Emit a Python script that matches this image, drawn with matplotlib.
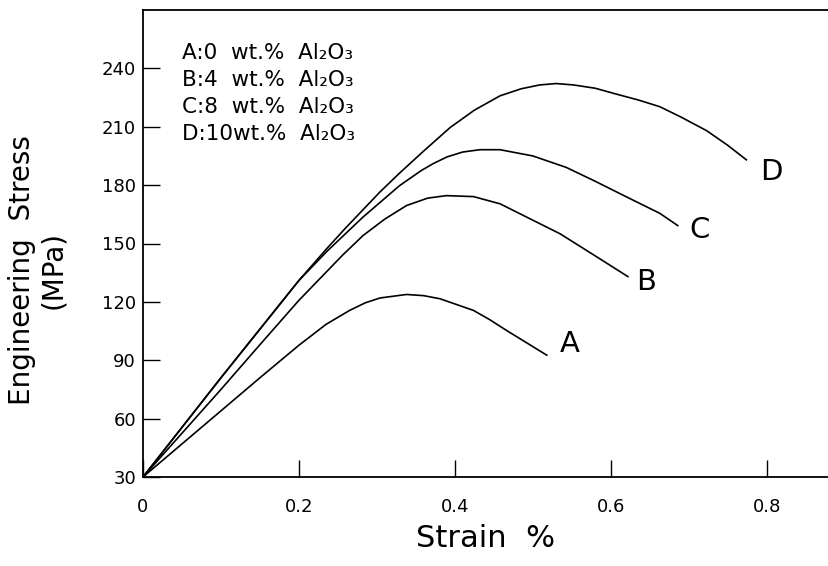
import matplotlib
matplotlib.use("Agg")
import matplotlib.pyplot as plt

# strain (%) / engineering stress (MPa)
a_strain = [0, 0.05, 0.1, 0.15, 0.2, 0.235, 0.265, 0.285, 0.304, 0.338, 0.36, 0.381,
            0.424, 0.445, 0.466, 0.49, 0.518]
a_stress = [30, 47, 64, 81, 97.7, 108.5, 115.6, 119.5, 122, 123.8, 123.2, 121.6,
            115.6, 110.8, 105.4, 99.5, 92.6]

b_strain = [0, 0.05, 0.1, 0.15, 0.2, 0.256, 0.282, 0.31, 0.338, 0.365, 0.389, 0.424,
            0.458, 0.5, 0.535, 0.585, 0.622]
b_stress = [30, 52.5, 75, 98, 120.8, 144, 154, 162.5, 169.5, 173.3, 174.6, 174.1,
            170.4, 162, 155, 142.4, 133]

c_strain = [0, 0.05, 0.1, 0.15, 0.2, 0.236, 0.282, 0.329, 0.357, 0.372, 0.39, 0.41,
            0.432, 0.458, 0.5, 0.543, 0.58, 0.62, 0.663, 0.686]
c_stress = [30, 55.5, 81, 106, 131, 146, 163.5, 179.7, 187.5, 191, 194.5, 197,
            198.2, 198.2, 195, 189.1, 182, 174, 165.5, 159.2]

d_strain = [0, 0.05, 0.1, 0.15, 0.2, 0.236, 0.26, 0.304, 0.33, 0.36, 0.394, 0.425,
            0.458, 0.485, 0.509, 0.53, 0.552, 0.58, 0.607, 0.635, 0.663, 0.69, 0.723,
            0.75, 0.774]
d_stress = [30, 55.5, 81, 106, 131, 147.5, 158, 176.5, 186.5, 197.5, 209.6, 218.5,
            225.9, 229.5, 231.5, 232.2, 231.5, 229.8, 226.8, 223.8, 220.3, 215, 208,
            200.5, 193]

curve_names = ["A", "B", "C", "D"]
name_pos = [(0.547, 98.6), (0.646, 130.2), (0.714, 156.7), (0.806, 186.6)]
legend_lines = ["A:0  wt.%  Al₂O₃", "B:4  wt.%  Al₂O₃", "C:8  wt.%  Al₂O₃", "D:10wt.%  Al₂O₃"]
legend_y = [248.1, 234.1, 220.2, 206.2]

x_ticks = [0, 0.2, 0.4, 0.6, 0.8]
x_labels = ["0", "0.2", "0.4", "0.6", "0.8"]
y_ticks = [30, 60, 90, 120, 150, 180, 210, 240]

plt.rcParams["font.family"] = ["DejaVu Sans"]

fig = plt.figure(figsize=(8.29, 5.66), dpi=100)
ax = fig.add_axes([143 / 829, 1 - 477 / 566, 1 - 143 / 829, 467 / 566])

for xs, ys in [(a_strain, a_stress), (b_strain, b_stress), (c_strain, c_stress), (d_strain, d_stress)]:
    ax.plot(xs, ys, color="black", lw=1.2)

for name, (x, y) in zip(curve_names, name_pos):
    ax.text(x, y, name, fontsize=21, ha="center", va="center")

for line, y in zip(legend_lines, legend_y):
    ax.text(0.0496, y, line, fontsize=15.5, ha="left", va="center")

ax.set_xlim(0, 0.88)
ax.set_ylim(30, 270)
ax.set_xticks(x_ticks)
ax.set_xticklabels(x_labels)
ax.set_yticks(y_ticks)
ax.tick_params(direction="in", length=12, width=1, labelsize=13)
ax.tick_params(axis="x", pad=15)
ax.tick_params(axis="y", pad=5)
ax.spines["right"].set_visible(False)
for s in ["left", "top", "bottom"]:
    ax.spines[s].set_linewidth(1.3)

ax.set_xlabel("Strain  %", fontsize=22, labelpad=6)
fig.text(22 / 829, 1 - 270 / 566, "Engineering  Stress", rotation=90, fontsize=20,
         ha="center", va="center")
fig.text(53 / 829, 1 - 270 / 566, "(MPa)", rotation=90, fontsize=20,
         ha="center", va="center")

fig.savefig("out.png", dpi=100)
